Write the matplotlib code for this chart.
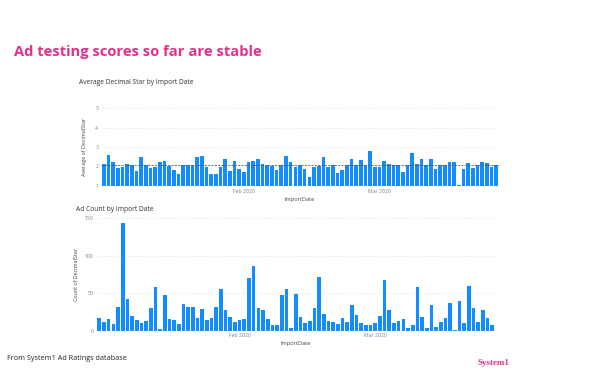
import numpy as np
import pandas as pd
import matplotlib
matplotlib.use("Agg")
import matplotlib.pyplot as plt

# daily import dates shown on both charts
dates = pd.date_range("2020-01-02", "2020-03-26", freq="D")

avg_star = [2.12, 2.60, 2.24, 1.90, 1.98, 2.14, 2.07, 1.78, 2.47, 2.09,
            1.90, 1.95, 2.22, 2.28, 2.02, 1.83, 1.60, 2.09, 2.09, 2.09,
            2.50, 2.55, 1.97, 1.59, 1.64, 1.98, 2.41, 1.76, 2.28, 1.88,
            1.74, 2.21, 2.28, 2.41, 2.12, 2.07, 2.05, 1.83, 2.09, 2.52,
            2.21, 1.97, 2.09, 1.85, 1.48, 1.98, 2.03, 2.48, 1.98, 2.10,
            1.66, 1.83, 2.07, 2.41, 2.10, 2.33, 2.10, 2.79, 1.97, 1.95,
            2.29, 2.12, 2.09, 2.09, 1.71, 2.09, 2.67, 2.12, 2.38, 2.10,
            2.38, 1.86, 2.09, 2.10, 2.22, 2.22, 1.05, 1.88, 2.17, 1.92,
            2.10, 2.21, 2.19, 2.00, 2.09]
avg_line = 2.1

ad_count = [17, 12, 15, 9, 31, 144, 42, 19, 14, 10,
            13, 30, 58, 2, 48, 16, 14, 9, 35, 31,
            31, 17, 29, 14, 17, 32, 56, 28, 18, 11,
            14, 15, 70, 87, 30, 28, 15, 8, 8, 48,
            56, 3, 49, 18, 10, 13, 30, 72, 22, 13,
            12, 9, 17, 12, 34, 21, 10, 7, 7, 10,
            19, 67, 27, 10, 13, 16, 4, 7, 58, 18,
            4, 34, 5, 11, 17, 37, 1, 39, 10, 59,
            30, 12, 28, 17, 7]

month_ticks = ["2020-02-01", "2020-03-01"]
month_labels = ["Feb 2020", "Mar 2020"]

plt.rcParams['font.family'] = ['Open Sans', 'DejaVu Sans']

W, H = 600, 371
fig = plt.figure(figsize=(6, 3.71), dpi=100)
fig.patch.set_facecolor("white")

bar_col = "#118DFF"
pink = "#E3318A"
x = np.arange(len(dates))
tick_pos = [(pd.Timestamp(d) - dates[0]).days for d in month_ticks]


def style(ax):
    for s in ax.spines.values():
        s.set_visible(False)
    ax.tick_params(length=0, labelsize=3.7, colors="#808080", pad=2)
    ax.yaxis.grid(True, color="#e6e6e6", lw=0.5, ls=(0, (1, 1)))
    ax.set_axisbelow(True)
    ax.set_xlim(-0.6, len(dates) - 0.4)
    ax.set_xticks(tick_pos)
    ax.set_xticklabels(month_labels)
    ax.set_xlabel("ImportDate", fontsize=4.1, color="#444444", labelpad=2)


# top chart
ax1 = fig.add_axes([101 / W, 1 - 186 / H, 398 / W, 78 / H])
ax1.bar(x, np.array(avg_star) - 1, bottom=1, width=0.78, color=bar_col)
ax1.axhline(avg_line, color="#555555", lw=0.6, ls=(0, (2.5, 1.5)))
ax1.set_ylim(1, 5)
ax1.set_yticks([1, 2, 3, 4, 5])
ax1.set_ylabel("Average of DecimalStar", fontsize=3.9, color="#444444", labelpad=6)
style(ax1)

# bottom chart
ax2 = fig.add_axes([96.5 / W, 1 - 330.7 / H, 398.5 / W, 112.4 / H])
ax2.bar(x, ad_count, width=0.78, color=bar_col)
ax2.set_ylim(0, 150)
ax2.set_yticks([0, 50, 100, 150])
ax2.set_ylabel("Count of DecimalStar", fontsize=3.9, color="#444444", labelpad=4)
style(ax2)

fig.text(14 / W, 1 - 52 / H, "Ad testing scores so far are stable", fontsize=10.6,
         fontweight="bold", color=pink, va="center", ha="left")
fig.text(79 / W, 1 - 83 / H, "Average Decimal Star by Import Date", fontsize=4.8,
         color="#333333", va="center", ha="left")
fig.text(76 / W, 1 - 209.5 / H, "Ad Count by Import Date", fontsize=4.8,
         color="#333333", va="center", ha="left")
fig.text(7 / W, 1 - 359 / H, "From System1 Ad Ratings database", fontsize=5.2,
         color="#222222", va="center", ha="left")
fig.text(478 / W, 1 - 363 / H, "System1", fontsize=6.5, fontweight="bold",
         family="Liberation Serif", color=pink, va="center", ha="left")

fig.savefig("out.png", dpi=100, facecolor="white")
